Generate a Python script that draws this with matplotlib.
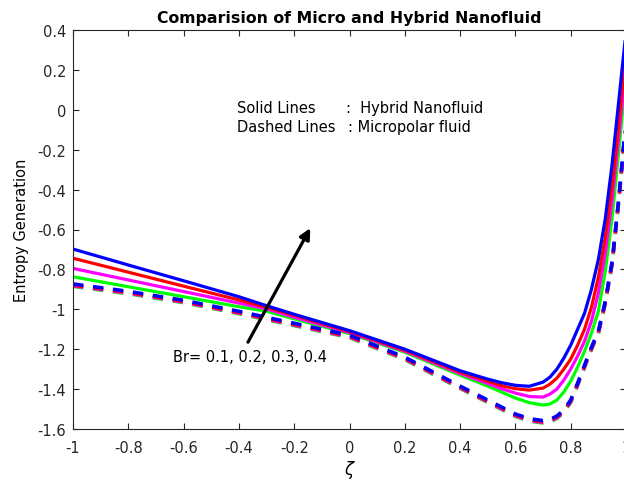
import matplotlib
matplotlib.use("Agg")
import matplotlib.pyplot as plt

plt.rcParams['font.family'] = ['DejaVu Sans']

# abscissa
zeta = [-1.0, -0.8, -0.6, -0.4, -0.3, -0.2, 0.0, 0.2, 0.4, 0.5, 0.55, 0.6, 0.65,
        0.7, 0.725, 0.75, 0.775, 0.8, 0.825, 0.85, 0.875, 0.9, 0.925, 0.95, 0.975, 1.0]

# hybrid nanofluid (solid lines), Br = 0.1 .. 0.4
hyb_br01 = [-0.837, -0.887, -0.937, -0.987, -1.010, -1.048, -1.122, -1.215, -1.330, -1.385, -1.415,
            -1.445, -1.468, -1.480, -1.475, -1.455, -1.415, -1.360, -1.290, -1.210, -1.120,
            -1.010, -0.810, -0.540, -0.190, 0.170]
hyb_br02 = [-0.795, -0.853, -0.911, -0.969, -0.998, -1.040, -1.117, -1.210, -1.322, -1.372, -1.398,
            -1.420, -1.437, -1.440, -1.425, -1.400, -1.355, -1.300, -1.235, -1.160, -1.060,
            -0.920, -0.720, -0.450, -0.120, 0.230]
hyb_br03 = [-0.744, -0.814, -0.884, -0.953, -0.990, -1.030, -1.112, -1.205, -1.315, -1.360, -1.383,
            -1.398, -1.405, -1.395, -1.375, -1.345, -1.300, -1.250, -1.180, -1.100, -0.990,
            -0.840, -0.640, -0.380, -0.050, 0.300]
hyb_br04 = [-0.698, -0.778, -0.857, -0.937, -0.982, -1.025, -1.107, -1.200, -1.308, -1.350, -1.368,
            -1.381, -1.386, -1.365, -1.340, -1.300, -1.245, -1.180, -1.100, -1.020, -0.900,
            -0.750, -0.547, -0.270, 0.060, 0.390]

# micropolar fluid (dashed lines)
mic_br04 = [-0.873, -0.910, -0.955, -1.010, -1.040, -1.070, -1.130, -1.240, -1.385, -1.455, -1.490,
            -1.525, -1.548, -1.558, -1.552, -1.535, -1.505, -1.455, -1.370, -1.280, -1.190,
            -1.110, -0.960, -0.760, -0.430, -0.050]
mic_br03 = [v - 0.005 for v in mic_br04]
mic_br02 = [v - 0.009 for v in mic_br04]
mic_br01 = [v - 0.012 for v in mic_br04]

colors = ['#00ff00', '#ff00ff', '#ff0000', '#0000ff']

fig = plt.figure(figsize=(6.24, 4.85), dpi=100)
ax = fig.add_axes([73/624, 1 - 430/485, 553/624, 399/485])

for y, c in zip([hyb_br01, hyb_br02, hyb_br03, hyb_br04], colors):
    ax.plot(zeta, y, color=c, lw=2.3)
for y, c in zip([mic_br01, mic_br02, mic_br03, mic_br04], colors):
    ax.plot(zeta, y, color=c, lw=2.6, dashes=(7.5/2.6, 7.0/2.6))

ax.set_xlim(-1, 1)
ax.set_ylim(-1.6, 0.4)
ax.set_xticks([-1, -0.8, -0.6, -0.4, -0.2, 0, 0.2, 0.4, 0.6, 0.8, 1])
ax.set_xticklabels(['-1', '-0.8', '-0.6', '-0.4', '-0.2', '0', '0.2', '0.4', '0.6', '0.8', '1'])
ax.set_yticks([-1.6, -1.4, -1.2, -1, -0.8, -0.6, -0.4, -0.2, 0, 0.2, 0.4])
ax.set_yticklabels(['-1.6', '-1.4', '-1.2', '-1', '-0.8', '-0.6', '-0.4', '-0.2', '0', '0.2', '0.4'])
ax.tick_params(direction='in', top=True, right=True, length=4, width=0.8,
               labelsize=10.5, colors='#262626')
ax.tick_params(axis='x', pad=8)
ax.tick_params(axis='y', pad=5)
for s in ax.spines.values():
    s.set_color('#262626')
    s.set_linewidth(0.8)

ax.set_title('Comparision of Micro and Hybrid Nanofluid', fontsize=11.3,
             fontweight='bold', pad=6)
ax.set_xlabel(r'$\zeta$', fontsize=12, labelpad=2)
ax.set_ylabel('Entropy Generation', fontsize=10.5, labelpad=6)

ax.text(-0.407, 0.014, 'Solid Lines', fontsize=10.5, va='center')
ax.text(-0.011, 0.014, ':  Hybrid Nanofluid', fontsize=10.5, va='center')
ax.text(-0.407, -0.086, 'Dashed Lines', fontsize=10.5, va='center')
ax.text(-0.005, -0.086, ': Micropolar fluid', fontsize=10.5, va='center')

ax.annotate('', xy=(-0.137, -0.581), xytext=(-0.372, -1.177),
            arrowprops=dict(arrowstyle='-|>', color='black', lw=2.3, mutation_scale=16))
ax.text(-0.64, -1.235, 'Br= 0.1, 0.2, 0.3, 0.4', fontsize=10.5, va='center')

fig.savefig('out.png', dpi=100)
